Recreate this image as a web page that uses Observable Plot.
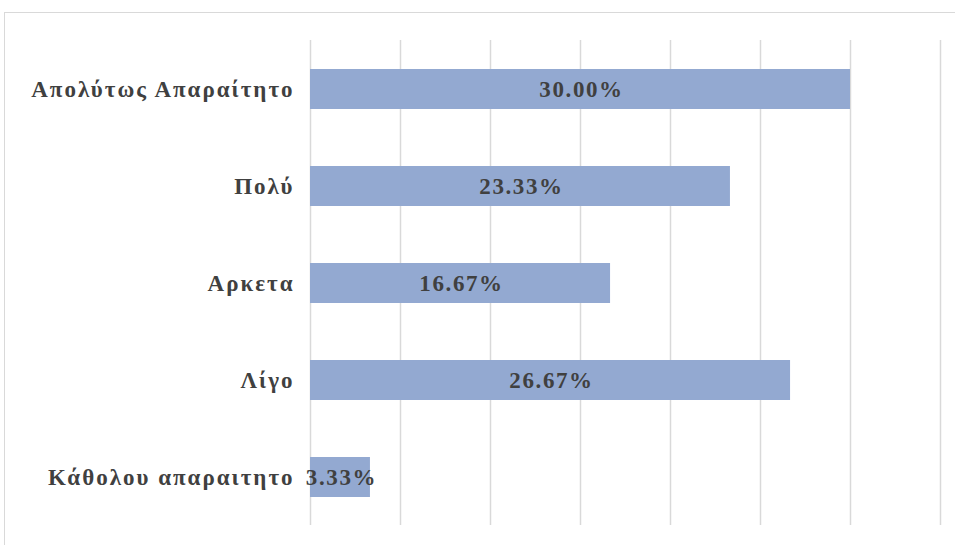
<!DOCTYPE html>
<html><head><meta charset="utf-8">
<script src="https://cdn.jsdelivr.net/npm/d3@7"></script>
<script src="https://cdn.jsdelivr.net/npm/@observablehq/plot@0.6"></script>
<style>
html,body{margin:0;padding:0;background:#fff;overflow:hidden;}
#wrap{position:relative;width:955px;height:545px;}
#frame{position:absolute;left:4px;top:12px;width:1000px;height:600px;border:1px solid #d9d9d9;box-sizing:border-box;}
#chart{position:absolute;left:0;top:0;}
.cat text{font-family:"Liberation Serif",serif;font-weight:bold;font-size:23px;fill:#404040;letter-spacing:2px;}
.val text{font-family:"Liberation Serif",serif;font-weight:bold;font-size:23px;fill:#404040;letter-spacing:1.6px;}
</style></head>
<body><div id="wrap"><div id="frame"></div><div id="chart"></div></div>
<script>
const categories = ["Απολύτως Απαραίτητο","Πολύ","Αρκετα","Λίγο","Κάθολου απαραιτητο"];
const values = [30.00, 23.33, 16.67, 26.67, 3.33];
const labels = ["30.00%","23.33%","16.67%","26.67%","3.33%"];
const xTicks = [0,5,10,15,20,25,30,35];
const data = categories.map((c,i)=>({cat:c, v:values[i], label:labels[i]}));
const chart = Plot.plot({
  width:955, height:545,
  marginLeft:310, marginRight:15, marginTop:40, marginBottom:20,
  x:{domain:[0,35], axis:null},
  y:{domain:categories, paddingInner:0.59, paddingOuter:0.295, axis:null, label:null},
  style:{background:"transparent"},
  marks:[
    Plot.ruleX(xTicks,{stroke:"#d9d9d9", strokeWidth:1.5}),
    Plot.barX(data,{x:"v", y:"cat", fill:"#93a9d1"}),
    Plot.axisY({tickSize:0, tickPadding:16, fontSize:23, label:null, className:"cat"}),
    Plot.text(data,{x:d=>d.v/2, y:"cat", text:"label", className:"val", fill:"#404040", dx:1})
  ]
});
document.getElementById("chart").appendChild(chart);
</script></body></html>
